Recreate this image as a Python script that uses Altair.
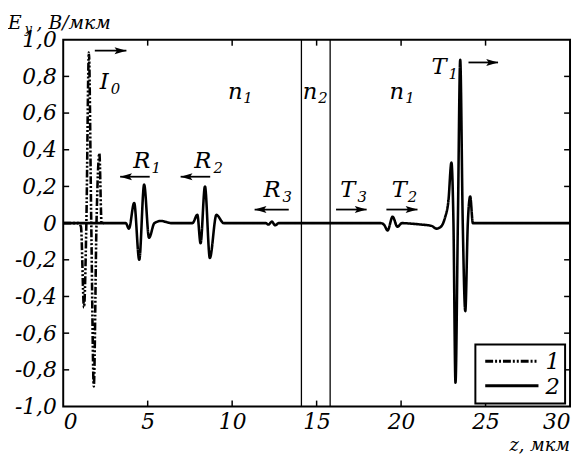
import altair as alt
import pandas as pd

# ---------------- data ----------------
# curve 1: incident pulse (dash-dot-dot)
c1_z = [0.0, 0.9, 1.05, 1.23, 1.37, 1.52, 1.66, 1.81, 1.97, 2.14, 2.27, 2.4]
c1_E = [0.0, 0.0, -0.02, -0.46, 0.0, 0.93, 0.0, -0.89, 0.0, 0.38, 0.0, 0.0]

# curve 2: reflected / transmitted field (solid)
c2_z = [0.0, 3.7, 3.89, 4.2, 4.5, 4.79, 5.08, 5.4, 5.8, 6.4,
        7.65, 7.94, 8.13, 8.39, 8.68, 9.07, 9.5, 10.5,
        12.0, 12.15, 12.35, 12.55, 12.75, 13.0,
        18.8, 19.0, 19.2, 19.5, 19.78, 20.05, 20.6, 21.2, 21.8, 22.1,
        22.35, 22.6, 22.8, 22.98, 23.1, 23.22, 23.36, 23.5, 23.65, 23.8,
        23.95, 24.09, 24.25, 24.5, 30.0]
c2_E = [0.0, 0.0, -0.03, 0.11, -0.2, 0.21, -0.08, 0.0, 0.012, 0.0,
        0.0, 0.045, -0.11, 0.2, -0.19, 0.045, 0.0, 0.0,
        0.0, -0.008, 0.008, -0.012, 0.0, 0.0,
        0.0, -0.01, -0.04, 0.035, -0.02, 0.0, -0.003, -0.008, -0.015, -0.03,
        -0.02, 0.03, 0.12, 0.33, 0.0, -0.87, 0.0, 0.89, 0.0, -0.48,
        0.0, 0.145, 0.0, 0.0, 0.0]

series = ["1", "2"]
x_ticks = [0, 5, 10, 15, 20, 25, 30]
y_ticks = [-1.0, -0.8, -0.6, -0.4, -0.2, 0.0, 0.2, 0.4, 0.6, 0.8, 1.0]
boundary_z = [14.1, 15.8]

# labels: main letter + subscript
lab_main = ["I", "R", "R", "R", "T", "T", "T", "n", "n", "n"]
lab_sub = ["0", "1", "2", "3", "3", "2", "1", "1", "2", "1"]
lab_z = [2.16, 4.14, 7.76, 11.85, 16.4, 19.44, 21.8, 9.75, 14.18, 19.32]
lab_E = [0.731, 0.301, 0.301, 0.14, 0.14, 0.14, 0.812, 0.677, 0.677, 0.677]
sub_z = [2.82, 5.22, 8.89, 12.98, 17.42, 20.4, 22.8, 10.66, 15.1, 20.24]
sub_E = [0.704, 0.274, 0.274, 0.113, 0.113, 0.113, 0.785, 0.656, 0.656, 0.656]

# arrows
arr_z1 = [1.87, 3.37, 6.95, 11.33, 16.15, 19.13, 23.99]
arr_z2 = [3.74, 5.12, 8.7, 13.35, 17.96, 20.97, 25.74]
arr_E = [0.94, 0.253, 0.253, 0.074, 0.074, 0.074, 0.876]
arr_dir = ["right", "left", "left", "left", "right", "right", "right"]

# ---------------- chart ----------------
W, H = 514, 372
FONT = "DejaVu Serif"
xs = alt.Scale(domain=[0, 30], nice=False, zero=False)
ys = alt.Scale(domain=[-1, 1], nice=False)
dash_scale = alt.Scale(domain=series, range=[[8, 2, 2, 2, 2, 2], [1, 0]])

label_expr = ("datum.value == 0 ? '0' : "
              "replace(replace(format(datum.value, '.1f'), '.', ','), '\u2212', '-')")
AX_X = alt.Axis(values=x_ticks, ticks=False, domain=False, grid=False, title=None,
                labelFont=FONT, labelFontStyle="italic", labelFontSize=22, labelColor="black",
                labelPadding=5, labelFlush=True, labelOverlap=False)
AX_Y = alt.Axis(values=y_ticks, ticks=False, domain=False, grid=False, title=None,
                labelFont=FONT, labelFontStyle="italic", labelFontSize=22, labelColor="black",
                labelPadding=7, labelExpr=label_expr, labelFlush=False, labelOverlap=False)


def X(field):
    return alt.X(field, type="quantitative", scale=xs, axis=AX_X)


def Y(field):
    return alt.Y(field, type="quantitative", scale=ys, axis=AX_Y)


df = pd.concat([
    pd.DataFrame({"z": c1_z, "E": c1_E, "s": series[0]}),
    pd.DataFrame({"z": c2_z, "E": c2_E, "s": series[1]}),
])

lines = alt.Chart(df).mark_line(interpolate="monotone", strokeWidth=2.6, color="black").encode(
    x=X("z"), y=Y("E"),
    strokeDash=alt.StrokeDash("s:N", scale=dash_scale, legend=None),
)

bounds = alt.Chart(pd.DataFrame({"z": boundary_z})).mark_rule(strokeWidth=1.3, color="black").encode(
    x=X("z"))

xt = pd.DataFrame({"z": x_ticks[1:-1]})
yt = pd.DataFrame({"E": y_ticks[1:-1]})
tick_b = alt.Chart(xt).mark_rule(strokeWidth=1.5, color="black").encode(
    x=X("z"), y=alt.value(H), y2=alt.value(H - 6))
tick_t = alt.Chart(xt).mark_rule(strokeWidth=1.5, color="black").encode(
    x=X("z"), y=alt.value(0), y2=alt.value(6))
tick_l = alt.Chart(yt).mark_rule(strokeWidth=1.5, color="black").encode(
    y=Y("E"), x=alt.value(0), x2=alt.value(6))
tick_r = alt.Chart(yt).mark_rule(strokeWidth=1.5, color="black").encode(
    y=Y("E"), x=alt.value(W - 6), x2=alt.value(W))

ldf = pd.DataFrame({"m": lab_main, "z": lab_z, "E": lab_E, "s": lab_sub, "sz": sub_z, "sE": sub_E})
lab_m = alt.Chart(ldf).mark_text(align="left", baseline="alphabetic", font=FONT, fontStyle="italic",
                                 fontSize=23, color="black").encode(
    x=X("z"), y=Y("E"), text="m:N")
lab_s = alt.Chart(ldf).mark_text(align="left", baseline="alphabetic", font=FONT, fontStyle="italic",
                                 fontSize=15, color="black").encode(
    x=X("sz"), y=Y("sE"), text="s:N")

adf = pd.DataFrame({"z1": arr_z1, "z2": arr_z2, "E": arr_E, "d": arr_dir})
adf["tip"] = [b if d == "right" else a for a, b, d in zip(arr_z1, arr_z2, arr_dir)]
shafts = alt.Chart(adf).mark_rule(strokeWidth=1.8, color="black").encode(
    x=X("z1"), x2="z2:Q", y=Y("E"))
heads_r = alt.Chart(adf).transform_filter("datum.d == 'right'").mark_point(
    shape="M0,0L-2,-0.6L-1.6,0L-2,0.6Z", size=144, filled=True, color="black", opacity=1).encode(
    x=X("tip"), y=Y("E"))
heads_l = alt.Chart(adf).transform_filter("datum.d == 'left'").mark_point(
    shape="M0,0L2,-0.6L1.6,0L2,0.6Z", size=144, filled=True, color="black", opacity=1).encode(
    x=X("tip"), y=Y("E"))

# legend (drawn by hand, inside the plot, bottom right)
leg_box = alt.Chart(pd.DataFrame({"k": [0]})).mark_rect(
    fill="white", stroke="black", strokeWidth=2).encode(
    x=alt.value(418), x2=alt.value(509), y=alt.value(309), y2=alt.value(369))
leg_parts = []
for i, s in enumerate(series):
    yy = 326 + 25 * i
    sd = pd.DataFrame({"s": [s]})
    leg_parts.append(alt.Chart(sd).mark_rule(strokeWidth=3, color="black").encode(
        x=alt.value(428), x2=alt.value(482), y=alt.value(yy),
        strokeDash=alt.StrokeDash("s:N", scale=dash_scale, legend=None)))
    leg_parts.append(alt.Chart(sd).mark_text(
        align="left", baseline="middle", font=FONT, fontStyle="italic", fontSize=23,
        color="black").encode(x=alt.value(489), y=alt.value(yy + 1), text="s:N"))

# axis titles
tE = alt.Chart(pd.DataFrame({"t": ["E"]})).mark_text(
    align="left", baseline="alphabetic", font=FONT, fontStyle="italic", fontSize=19, color="black").encode(
    x=alt.value(-56), y=alt.value(-11), text="t:N")
tEy = alt.Chart(pd.DataFrame({"t": ["y"]})).mark_text(
    align="left", baseline="alphabetic", font=FONT, fontStyle="italic", fontSize=13, color="black").encode(
    x=alt.value(-39), y=alt.value(-7), text="t:N")
tEu = alt.Chart(pd.DataFrame({"t": [", В/мкм"]})).mark_text(
    align="left", baseline="alphabetic", font=FONT, fontStyle="italic", fontSize=19, color="black").encode(
    x=alt.value(-27), y=alt.value(-11), text="t:N")
tz = alt.Chart(pd.DataFrame({"t": ["z, мкм"]})).mark_text(
    align="right", baseline="alphabetic", font=FONT, fontStyle="italic", fontSize=18, color="black").encode(
    x=alt.value(W), y=alt.value(H + 45), text="t:N")

chart = alt.layer(
    lines, bounds, tick_b, tick_t, tick_l, tick_r, shafts, heads_r, heads_l, lab_m, lab_s,
    leg_box, *leg_parts, tE, tEy, tEu, tz
).properties(
    width=W, height=H,
    autosize=alt.AutoSizeParams(type="none"),
    padding={"left": 56, "top": 29, "right": 2, "bottom": 46},
    background="white",
).configure_view(stroke="black", strokeWidth=2)

chart.save("out.html", embed_options={"renderer": "svg", "actions": False})
